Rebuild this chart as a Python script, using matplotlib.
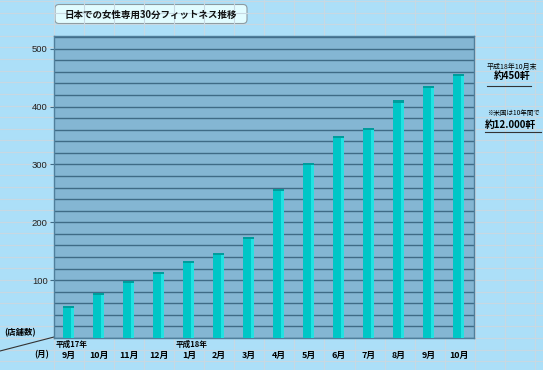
import matplotlib
matplotlib.use("Agg")
import matplotlib.pyplot as plt
from matplotlib.patches import FancyBboxPatch
from matplotlib.ticker import MultipleLocator
import numpy as np

plt.rcParams['font.family'] = ['Noto Sans CJK JP', 'DejaVu Sans']

# data
months = ['9月', '10月', '11月', '12月', '1月', '2月', '3月',
          '4月', '5月', '6月', '7月', '8月', '9月', '10月']
stores = [54, 76, 97, 112, 131, 145, 173, 256, 301, 347, 361, 409, 434, 454]
year_labels = ['平成17年', '平成18年']
year_pos = [0, 4]
title = '日本での女性専用30分フィットネス推移'

W, H = 543, 370
fig = plt.figure(figsize=(W / 100, H / 100), dpi=100)
fig.patch.set_facecolor('#ACDFF8')

# spreadsheet background grid (pixel coordinates)
bg = fig.add_axes([0, 0, 1, 1])
bg.set_xlim(0, W)
bg.set_ylim(H, 0)
bg.axis('off')
for cx in np.arange(54, W, 30.05):
    bg.axvline(cx, color='#C8D8E2', lw=0.8)
for ry in np.arange(338, 0, -11.62):
    bg.axhline(ry, color='#C8D8E2', lw=0.8)
for ry in np.arange(338 + 11.62, H, 11.62):
    bg.axhline(ry, color='#C8D8E2', lw=0.8)

# title box
box = FancyBboxPatch((55, 4.5), 192, 19, boxstyle='round,pad=0,rounding_size=4',
                     facecolor='#E2FCFF', edgecolor='#8C9AA0', lw=0.8)
bg.add_patch(box)
bg.text(151, 14.5, title, ha='center', va='center', fontsize=6.8,
        fontweight='bold', color='#111111')

# left side labels
bg.text(20, 333, '(店舗数)', ha='center', va='center', fontsize=6, fontweight='bold')
bg.text(42, 355, '(月)', ha='center', va='center', fontsize=6, fontweight='bold')
bg.plot([0, 54], [351, 337], color='#333333', lw=0.8)

# right side notes
bg.text(512, 66.5, '平成18年10月末', ha='center', va='center', fontsize=5)
bg.text(512, 76.5, '約450軒', ha='center', va='center', fontsize=7, fontweight='bold')
bg.plot([487, 531], [85.5, 85.5], color='#333333', lw=0.8)
bg.text(513, 113, '※米国は10年間で', ha='center', va='center', fontsize=4.7)
bg.text(510, 125, '約12.000軒', ha='center', va='center', fontsize=7, fontweight='bold')
bg.plot([485, 541], [131.5, 131.5], color='#333333', lw=0.8)

# main chart
ax = fig.add_axes([54 / W, (H - 338) / H, 420 / W, 302 / H])
ax.set_facecolor('#84B6D3')
x = np.arange(len(stores))
vals = np.array(stores)
ax.bar(x - 0.03, vals, width=0.37, color='#00C6C6', zorder=3)
ax.bar(x + 0.11, vals, width=0.09, color='#20E2E2', zorder=3)
ax.bar(x - 0.01, 4, bottom=vals - 2, width=0.36, color='#009C9C', zorder=4)

ax.set_xlim(-0.5, len(stores) - 0.5)
ax.set_ylim(0, 522)
ax.yaxis.set_major_locator(MultipleLocator(100))
ax.yaxis.set_minor_locator(MultipleLocator(20))
ax.grid(axis='y', which='both', color='#3F6B86', lw=1.0, zorder=1)
ax.set_yticks([100, 200, 300, 400, 500])
ax.tick_params(axis='y', which='major', length=3, width=0.8, color='#3F6B86',
               labelsize=6.8, pad=1.5, labelcolor='#222222')
ax.tick_params(axis='y', which='minor', length=0)
for lab in ax.get_yticklabels():
    lab.set_fontfamily('Liberation Sans')

ax.set_xticks(x)
ax.set_xticklabels(months, fontsize=6.4, fontweight='bold')
ax.tick_params(axis='x', length=0, pad=9.5)

for spine in ax.spines.values():
    spine.set_color('#4F7F9C')
    spine.set_linewidth(1.0)

for yl, p in zip(year_labels, year_pos):
    ax.text(p - 0.43, -0.006, yl, transform=ax.get_xaxis_transform(),
            ha='left', va='top', fontsize=5.5, fontweight='bold')

fig.savefig('out.png', dpi=100, facecolor=fig.get_facecolor())
